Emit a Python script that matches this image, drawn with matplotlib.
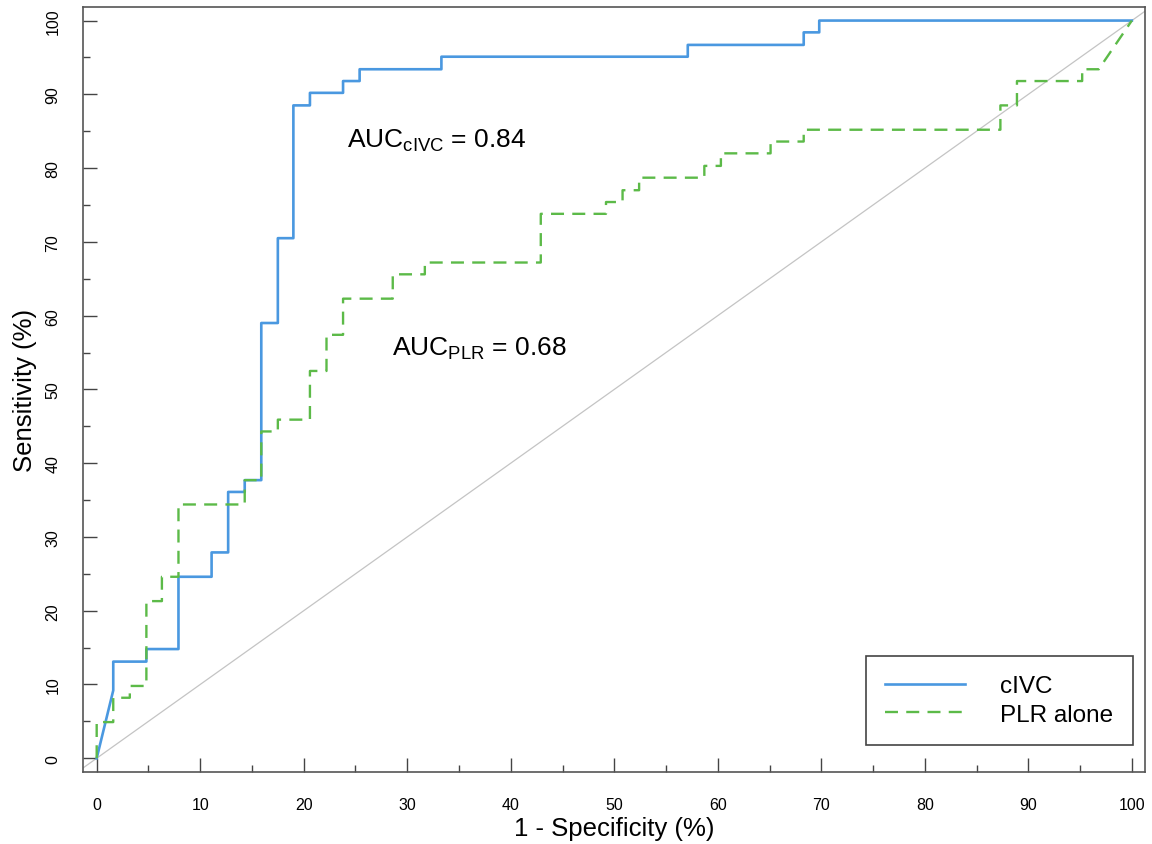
#!/usr/bin/env python3
"""
ROC curves: cIVC vs PLR alone
"""

import matplotlib
matplotlib.use('Agg')
import matplotlib.pyplot as plt
from matplotlib.ticker import MultipleLocator

# ROC points (1 - specificity %, sensitivity %)
civc_fpr = [0, 1.6, 1.6, 4.8, 4.8, 7.9, 7.9, 11.1, 11.1, 12.7, 12.7, 14.3, 14.3,
            15.9, 15.9, 17.5, 17.5, 19.0, 19.0, 20.6, 20.6, 23.8, 23.8, 25.4,
            25.4, 33.3, 33.3, 57.1, 57.1, 68.3, 68.3, 69.8, 69.8, 100]
civc_tpr = [0, 9.2, 13.1, 13.1, 14.8, 14.8, 24.6, 24.6, 27.9, 27.9, 36.1, 36.1,
            37.7, 37.7, 59.0, 59.0, 70.5, 70.5, 88.5, 88.5, 90.2, 90.2, 91.8,
            91.8, 93.4, 93.4, 95.1, 95.1, 96.7, 96.7, 98.4, 98.4, 100, 100]

plr_fpr = [0, 0, 1.6, 1.6, 3.2, 3.2, 4.8, 4.8, 6.3, 6.3, 7.9, 7.9, 14.3, 14.3,
           15.9, 15.9, 17.5, 17.5, 20.6, 20.6, 22.2, 22.2, 23.8, 23.8, 28.6,
           28.6, 31.7, 31.7, 42.9, 42.9, 49.2, 49.2, 50.8, 50.8, 52.4, 52.4,
           58.7, 58.7, 60.3, 60.3, 65.1, 65.1, 68.3, 68.3, 87.3, 87.3, 88.9,
           88.9, 95.2, 95.2, 96.8, 100]
plr_tpr = [0, 4.9, 4.9, 8.2, 8.2, 9.8, 9.8, 21.3, 21.3, 24.6, 24.6, 34.4, 34.4,
           37.7, 37.7, 44.3, 44.3, 45.9, 45.9, 52.5, 52.5, 57.4, 57.4, 62.3,
           62.3, 65.6, 65.6, 67.2, 67.2, 73.8, 73.8, 75.4, 75.4, 77.0, 77.0,
           78.7, 78.7, 80.3, 80.3, 82.0, 82.0, 83.6, 83.6, 85.2, 85.2, 88.5,
           88.5, 91.8, 91.8, 93.4, 93.4, 100]

series_labels = ['cIVC', 'PLR alone']
auc_civc = 0.84
auc_plr = 0.68

plt.rcParams['font.family'] = ['Liberation Sans', 'DejaVu Sans']
plt.rcParams['mathtext.fontset'] = 'custom'
plt.rcParams['mathtext.rm'] = 'Liberation Sans'
plt.rcParams['mathtext.it'] = 'Liberation Sans'

fig = plt.figure(figsize=(11.52, 8.45), dpi=100)
ax = fig.add_axes([0.0718, 0.0849, 0.9224, 0.9053])

# reference diagonal
ax.axline((0, 0), (100, 100), color='#c4c4c4', linewidth=0.9, zorder=1)

ax.plot(civc_fpr, civc_tpr, color='#4a98e0', linewidth=1.9,
        label=series_labels[0], zorder=3)
ax.plot(plr_fpr, plr_tpr, color='#5cba48', linewidth=1.7,
        dashes=(5.5, 3.5), label=series_labels[1], zorder=4)

ax.text(24.2, 82.9, r'AUC$_{\mathrm{cIVC}}$ = %.2f' % auc_civc,
        fontsize=19, va='baseline', ha='left')
ax.text(28.5, 54.7, r'AUC$_{\mathrm{PLR}}$ = %.2f' % auc_plr,
        fontsize=19, va='baseline', ha='left')

ax.set_xlim(-1.35, 101.3)
ax.set_ylim(-1.9, 101.8)

ax.xaxis.set_major_locator(MultipleLocator(10))
ax.xaxis.set_minor_locator(MultipleLocator(5))
ax.yaxis.set_major_locator(MultipleLocator(10))
ax.yaxis.set_minor_locator(MultipleLocator(5))

ax.tick_params(axis='both', which='both', direction='in', color='#444444',
               width=1.0, top=False, right=False)
ax.tick_params(axis='both', which='major', length=10, labelsize=11.5)
ax.tick_params(axis='both', which='minor', length=5)
ax.tick_params(axis='x', which='major', pad=18)
ax.tick_params(axis='y', which='major', pad=16)
for lbl in ax.get_yticklabels():
    lbl.set_rotation(90)
    lbl.set_va('center')

for sp in ax.spines.values():
    sp.set_color('#555555')
    sp.set_linewidth(1.2)

ax.set_xlabel('1 - Specificity (%)', fontsize=18.5, labelpad=3)
ax.set_ylabel('Sensitivity (%)', fontsize=18.5, labelpad=6)

leg = ax.legend(loc='lower right', bbox_to_anchor=(0.9884, 0.0357),
                borderaxespad=0, fontsize=17.5, frameon=True, fancybox=False,
                handlelength=3.3, handletextpad=1.45, borderpad=0.8,
                labelspacing=0.25)
leg.get_frame().set_edgecolor('#444444')
leg.get_frame().set_linewidth(1.2)
leg.get_frame().set_alpha(1)

fig.savefig('out.png', dpi=100)
plt.close(fig)
